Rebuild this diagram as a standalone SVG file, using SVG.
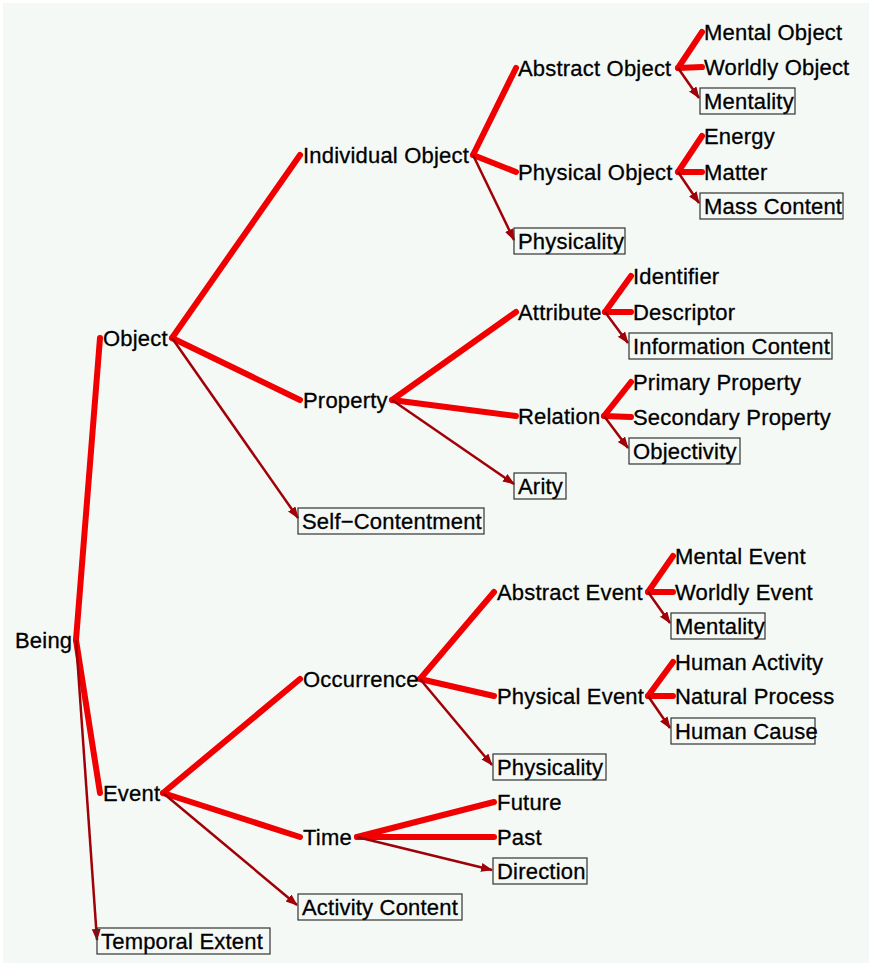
<svg xmlns="http://www.w3.org/2000/svg" width="871" height="967" viewBox="0 0 871 967">
<defs>
<marker id="ah" markerUnits="userSpaceOnUse" markerWidth="12" markerHeight="10" refX="11" refY="4.5" orient="auto">
<path d="M0,0 L12,4.5 L0,9 z" fill="#a00008"/>
</marker>
<style>
text{font-family:"Liberation Sans",Arial,sans-serif;font-size:22px;fill:#000;stroke:#000;stroke-width:0.3;letter-spacing:0.2px}
.b{fill:none;stroke:#333;stroke-width:1.2}
.t{stroke:#f00000;stroke-width:6;stroke-linecap:round;fill:none}
.a{stroke:#a00008;stroke-width:2.5;fill:none;marker-end:url(#ah)}
</style>
</defs>
<rect x="0" y="0" width="871" height="967" fill="#ffffff"/>
<rect x="3" y="3" width="866" height="960" fill="#f5f9f6"/>
<g id="connectors">
<line class="t" x1="76" y1="640" x2="100" y2="338"/>
<line class="t" x1="76" y1="640" x2="100" y2="793"/>
<line class="t" x1="172" y1="338" x2="300" y2="155"/>
<line class="t" x1="172" y1="338" x2="300" y2="400"/>
<line class="t" x1="473" y1="155" x2="516" y2="68"/>
<line class="t" x1="473" y1="155" x2="516" y2="172"/>
<line class="t" x1="678" y1="68" x2="702" y2="32"/>
<line class="t" x1="678" y1="68" x2="702" y2="67"/>
<line class="t" x1="678" y1="172" x2="702" y2="136"/>
<line class="t" x1="678" y1="172" x2="702" y2="172"/>
<line class="t" x1="392" y1="400" x2="516" y2="312"/>
<line class="t" x1="392" y1="400" x2="516" y2="416"/>
<line class="t" x1="605" y1="312" x2="631" y2="276"/>
<line class="t" x1="605" y1="312" x2="631" y2="312"/>
<line class="t" x1="604" y1="416" x2="631" y2="382"/>
<line class="t" x1="604" y1="416" x2="631" y2="417"/>
<line class="t" x1="163" y1="793" x2="300" y2="679"/>
<line class="t" x1="163" y1="793" x2="300" y2="837"/>
<line class="t" x1="420" y1="679" x2="494" y2="592"/>
<line class="t" x1="420" y1="679" x2="494" y2="696"/>
<line class="t" x1="648" y1="592" x2="673" y2="556"/>
<line class="t" x1="648" y1="592" x2="673" y2="592"/>
<line class="t" x1="648" y1="696" x2="673" y2="662"/>
<line class="t" x1="648" y1="696" x2="673" y2="696"/>
<line class="t" x1="357" y1="837" x2="494" y2="802"/>
<line class="t" x1="357" y1="837" x2="494" y2="837"/>
<line class="a" x1="76" y1="640" x2="97" y2="940"/>
<line class="a" x1="172" y1="338" x2="298" y2="518"/>
<line class="a" x1="473" y1="155" x2="514" y2="240"/>
<line class="a" x1="678" y1="68" x2="699" y2="98"/>
<line class="a" x1="678" y1="172" x2="699" y2="203"/>
<line class="a" x1="392" y1="400" x2="514" y2="484"/>
<line class="a" x1="605" y1="312" x2="628" y2="343"/>
<line class="a" x1="604" y1="416" x2="628" y2="448"/>
<line class="a" x1="163" y1="793" x2="297" y2="905"/>
<line class="a" x1="420" y1="679" x2="492" y2="765"/>
<line class="a" x1="648" y1="592" x2="670" y2="623"/>
<line class="a" x1="648" y1="696" x2="670" y2="728"/>
<line class="a" x1="357" y1="837" x2="492" y2="870"/>
</g>
<g id="being"><text x="15" y="648">Being</text></g>
<g id="object"><text x="103" y="346">Object</text></g>
<g id="event"><text x="103" y="801">Event</text></g>
<g id="temporal-extent"><rect class="b" x="97" y="928" width="173" height="26"/><text x="101" y="949">Temporal Extent</text></g>
<g id="individual-object"><text x="303" y="163">Individual Object</text></g>
<g id="property"><text x="303" y="408">Property</text></g>
<g id="self-contentment"><rect class="b" x="298" y="508" width="186" height="26"/><text x="302" y="529">Self−Contentment</text></g>
<g id="abstract-object"><text x="518" y="76">Abstract Object</text></g>
<g id="physical-object"><text x="518" y="180">Physical Object</text></g>
<g id="physicality-1"><rect class="b" x="514" y="228" width="111" height="26"/><text x="518" y="249">Physicality</text></g>
<g id="mental-object"><text x="704" y="40">Mental Object</text></g>
<g id="worldly-object"><text x="704" y="75">Worldly Object</text></g>
<g id="mentality-1"><rect class="b" x="700" y="88" width="95" height="26"/><text x="704" y="109">Mentality</text></g>
<g id="energy"><text x="704" y="144">Energy</text></g>
<g id="matter"><text x="704" y="180">Matter</text></g>
<g id="mass-content"><rect class="b" x="700" y="193" width="143" height="26"/><text x="704" y="214">Mass Content</text></g>
<g id="attribute"><text x="518" y="320">Attribute</text></g>
<g id="relation"><text x="518" y="424">Relation</text></g>
<g id="arity"><rect class="b" x="514" y="473" width="52" height="26"/><text x="518" y="494">Arity</text></g>
<g id="identifier"><text x="633" y="284">Identifier</text></g>
<g id="descriptor"><text x="633" y="320">Descriptor</text></g>
<g id="information-content"><rect class="b" x="629" y="333" width="203" height="26"/><text x="633" y="354">Information Content</text></g>
<g id="primary-property"><text x="633" y="390">Primary Property</text></g>
<g id="secondary-property"><text x="633" y="425">Secondary Property</text></g>
<g id="objectivity"><rect class="b" x="629" y="438" width="111" height="26"/><text x="633" y="459">Objectivity</text></g>
<g id="occurrence"><text x="303" y="687">Occurrence</text></g>
<g id="time"><text x="303" y="845">Time</text></g>
<g id="activity-content"><rect class="b" x="298" y="894" width="164" height="26"/><text x="302" y="915">Activity Content</text></g>
<g id="abstract-event"><text x="497" y="600">Abstract Event</text></g>
<g id="physical-event"><text x="497" y="704">Physical Event</text></g>
<g id="physicality-2"><rect class="b" x="493" y="754" width="113" height="26"/><text x="497" y="775">Physicality</text></g>
<g id="mental-event"><text x="675" y="564">Mental Event</text></g>
<g id="worldly-event"><text x="675" y="600">Worldly Event</text></g>
<g id="mentality-2"><rect class="b" x="671" y="613" width="94" height="26"/><text x="675" y="634">Mentality</text></g>
<g id="human-activity"><text x="675" y="670">Human Activity</text></g>
<g id="natural-process"><text x="675" y="704">Natural Process</text></g>
<g id="human-cause"><rect class="b" x="671" y="718" width="144" height="26"/><text x="675" y="739">Human Cause</text></g>
<g id="future"><text x="497" y="810">Future</text></g>
<g id="past"><text x="497" y="845">Past</text></g>
<g id="direction"><rect class="b" x="493" y="858" width="94" height="26"/><text x="497" y="879">Direction</text></g>
</svg>
